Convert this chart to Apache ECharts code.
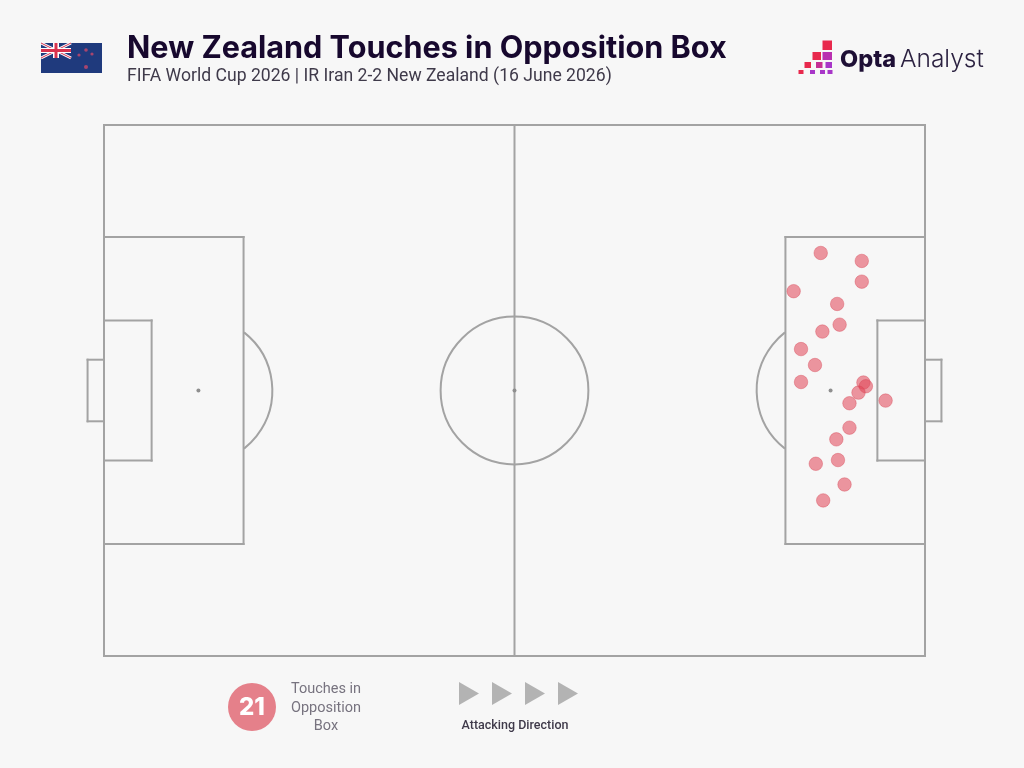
<!DOCTYPE html>
<html lang="en">
<head>
<meta charset="UTF-8">
<title>New Zealand Touches in Opposition Box</title>
<script src="https://cdn.jsdelivr.net/npm/echarts@6/dist/echarts.min.js"></script>
<style>
    html, body { margin: 0; padding: 0; background: #f7f7f7; }
    #main { width: 1024px; height: 768px; }
</style>
</head>
<body>
<div id="main"></div>
<script>
// touches, opta pitch coordinates (0-100 both ways)
var touchX = [87.3, 92.3, 92.3, 84.0, 89.3, 89.6, 87.5, 84.9, 86.6, 84.9, 92.5, 92.8, 91.9, 90.8, 95.2, 90.8, 89.2, 89.4, 86.7, 90.2, 87.6];
var touchY = [75.9, 74.4, 70.5, 68.7, 66.3, 62.4, 61.1, 57.8, 54.8, 51.6, 51.5, 50.8, 49.6, 47.6, 48.1, 43.0, 40.8, 36.9, 36.2, 32.3, 29.3];

// pitch markings in the same coordinates: [x1, y1, x2, y2]
var pitchLines = [
    [0, 0, 100, 0], [100, 0, 100, 100], [100, 100, 0, 100], [0, 100, 0, 0],
    [50, 0, 50, 100],
    [0, 21.1, 17, 21.1], [17, 21.1, 17, 78.9], [17, 78.9, 0, 78.9],
    [100, 21.1, 83, 21.1], [83, 21.1, 83, 78.9], [83, 78.9, 100, 78.9],
    [0, 36.8, 5.8, 36.8], [5.8, 36.8, 5.8, 63.2], [5.8, 63.2, 0, 63.2],
    [100, 36.8, 94.2, 36.8], [94.2, 36.8, 94.2, 63.2], [94.2, 63.2, 100, 63.2],
    [0, 44.2, -2, 44.2], [-2, 44.2, -2, 55.8], [-2, 55.8, 0, 55.8],
    [100, 44.2, 102, 44.2], [102, 44.2, 102, 55.8], [102, 55.8, 100, 55.8]
];
var pitchSpots = [[11.5, 50], [50, 50], [88.5, 50]];
var circleRadius = 9;
var arcAngle = 0.905;

var lineColor = '#a3a3a3';

var myChart = echarts.init(document.getElementById('main'));

function triangle(x) {
    return {
        type: 'polygon',
        shape: { points: [[x, 682], [x + 20, 693.5], [x, 705]] },
        style: { fill: '#b3b3b3' }
    };
}

function sq(x, y, w, h, fill) {
    return { type: 'rect', shape: { x: x, y: y, width: w, height: h }, style: { fill: fill } };
}

function star(x, y, r) {
    return {
        type: 'circle',
        shape: { cx: x, cy: y, r: r },
        style: { fill: '#a8456e' }
    };
}

function jackLine(x1, y1, x2, y2, w, c) {
    return {
        type: 'line',
        shape: { x1: x1, y1: y1, x2: x2, y2: y2 },
        style: { stroke: c, lineWidth: w }
    };
}

var option = {
    backgroundColor: '#f7f7f7',
    animation: false,
    title: {
        text: 'New Zealand Touches in Opposition Box',
        subtext: 'FIFA World Cup 2026 | IR Iran 2-2 New Zealand (16 June 2026)',
        left: 127,
        top: 33,
        padding: 0,
        itemGap: 4,
        textStyle: { fontFamily: 'Inter', fontWeight: 700, fontSize: 30.6, color: '#17082e' },
        subtextStyle: { fontFamily: 'Roboto', fontSize: 17.6, color: '#3f3a4a' }
    },
    grid: { left: 104, top: 125, width: 821, height: 531 },
    xAxis: { type: 'value', min: 0, max: 100, show: false },
    yAxis: { type: 'value', min: 0, max: 100, show: false },
    series: [
        {
            type: 'custom',
            coordinateSystem: 'cartesian2d',
            silent: true,
            data: pitchLines,
            encode: { x: [0, 2], y: [1, 3] },
            renderItem: function (params, api) {
                var a = api.coord([api.value(0), api.value(1)]);
                var b = api.coord([api.value(2), api.value(3)]);
                return {
                    type: 'line',
                    shape: { x1: a[0], y1: a[1], x2: b[0], y2: b[1] },
                    style: { stroke: lineColor, lineWidth: 2, fill: null, lineCap: 'square' }
                };
            }
        },
        {
            // centre circle and the two box arcs
            type: 'custom',
            coordinateSystem: 'cartesian2d',
            silent: true,
            data: pitchSpots,
            encode: { x: 0, y: 1 },
            renderItem: function (params, api) {
                var c = api.coord([api.value(0), api.value(1)]);
                var r = api.size([circleRadius, 0])[0];
                var start = 0, end = Math.PI * 2;
                if (params.dataIndex === 0) { start = -arcAngle; end = arcAngle; }
                if (params.dataIndex === 2) { start = Math.PI - arcAngle; end = Math.PI + arcAngle; }
                return {
                    type: 'group',
                    children: [
                        {
                            type: 'arc',
                            shape: { cx: c[0], cy: c[1], r: r, startAngle: start, endAngle: end },
                            style: { stroke: lineColor, lineWidth: 2, fill: null }
                        },
                        {
                            type: 'circle',
                            shape: { cx: c[0], cy: c[1], r: 2 },
                            style: { fill: '#8f8f8f' }
                        }
                    ]
                };
            }
        },
        {
            type: 'scatter',
            data: touchX.map(function (x, i) { return [x, touchY[i]]; }),
            symbolSize: 13.5,
            itemStyle: { color: 'rgba(224,70,88,0.7)', borderColor: 'rgba(215,70,85,0.5)', borderWidth: 1 }
        }
    ],
    graphic: [
        // flag
        sq(41, 43, 61, 30, '#1f3a7d'),
        jackLine(41, 43, 71, 58, 3, '#ffffff'),
        jackLine(71, 43, 41, 58, 3, '#ffffff'),
        jackLine(41, 43, 71, 58, 1, '#d8324e'),
        jackLine(71, 43, 41, 58, 1, '#d8324e'),
        sq(41, 48, 30, 5, '#ffffff'),
        sq(53, 43, 6, 15, '#ffffff'),
        sq(41, 49, 30, 3, '#d8324e'),
        sq(54.5, 43, 3, 15, '#d8324e'),
        star(86, 50, 1.8), star(79, 55, 1.6), star(92, 54, 1.6), star(86, 67, 2),
        // logo
        sq(822.5, 40.5, 9.5, 9.5, '#e8294d'),
        sq(812.5, 52, 8.5, 8, '#e8294d'),
        sq(822.5, 52, 9.5, 8, '#b92fb0'),
        sq(804.5, 62, 6.5, 6, '#e8294d'),
        sq(816, 62, 6.5, 6, '#c62f95'),
        sq(825.5, 62, 6.5, 6, '#a836c8'),
        sq(798.5, 70, 5, 4, '#e8294d'),
        sq(810, 70, 5, 4, '#a836c8'),
        sq(820, 70, 5, 4, '#a836c8'),
        sq(827.5, 70, 5, 4, '#a836c8'),
        {
            type: 'text', x: 840, y: 60,
            style: { text: 'Opta', fontFamily: 'Inter', fontWeight: 800, fontSize: 23.5, fill: '#1e0f35', verticalAlign: 'middle' }
        },
        {
            type: 'text', x: 900, y: 60,
            style: { text: 'Analyst', fontFamily: 'Inter', fontWeight: 300, fontSize: 24.5, fill: '#2b2140', verticalAlign: 'middle' }
        },
        // bottom key
        {
            type: 'circle',
            shape: { cx: 252, cy: 707, r: 24 },
            style: { fill: '#e5808a' }
        },
        {
            type: 'text', x: 252, y: 708,
            style: {
                text: '21', fontFamily: 'Inter', fontWeight: 800, fontSize: 24, fill: '#ffffff',
                align: 'center', verticalAlign: 'middle'
            }
        },
        {
            type: 'text', x: 326, y: 708,
            style: {
                text: 'Touches in\nOpposition\nBox', fontFamily: 'Roboto', fontSize: 14.5, lineHeight: 18.5,
                fill: '#77737f', align: 'center', verticalAlign: 'middle'
            }
        },
        triangle(459), triangle(492), triangle(525), triangle(558),
        {
            type: 'text', x: 515, y: 726,
            style: {
                text: 'Attacking Direction', fontFamily: 'Roboto', fontSize: 12.5, fontWeight: 500,
                fill: '#3f3a4a', align: 'center', verticalAlign: 'middle'
            }
        }
    ]
};

myChart.setOption(option);
</script>
</body>
</html>
